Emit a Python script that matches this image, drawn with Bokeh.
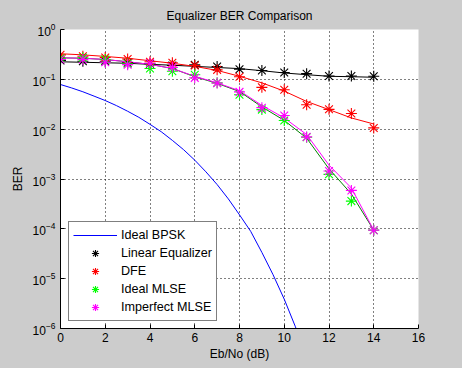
from bokeh.plotting import figure
from bokeh.models import Legend, LegendItem, FixedTicker
from bokeh.embed import file_html
from bokeh.resources import INLINE

# ---- data ----
ebno_theory = [0, 0.5, 1, 1.5, 2, 2.5, 3, 3.5, 4, 4.5, 5, 5.5, 6, 6.5, 7, 7.5,
               8, 8.5, 9, 9.5, 10, 10.5, 11]
ber_bpsk = [7.87e-2, 6.71e-2, 5.63e-2, 4.60e-2, 3.75e-2, 2.97e-2, 2.29e-2, 1.73e-2,
            1.25e-2, 8.90e-3, 5.95e-3, 3.88e-3, 2.39e-3, 1.39e-3, 7.73e-4, 3.99e-4,
            1.91e-4, 8.9e-5, 3.36e-5, 1.2e-5, 3.87e-6, 1.08e-6, 2.61e-7]

ebno = [0, 1, 2, 3, 4, 5, 6, 7, 8, 9, 10, 11, 12, 13, 14]
ber_linear = [0.24, 0.23, 0.23, 0.215, 0.205, 0.19, 0.195, 0.18, 0.16, 0.15, 0.137, 0.13, 0.117, 0.117, 0.115]
ber_dfe = [0.31, 0.29, 0.275, 0.255, 0.225, 0.215, 0.19, 0.155, 0.113, 0.069, 0.062, 0.031, 0.025, 0.0206, 0.0106]
ber_mlse = [0.265, 0.27, 0.25, 0.205, 0.165, 0.145, 0.124, 0.085, 0.049, 0.0247, 0.0149, 0.0069, 0.00124, 0.00036, 0.000094]
ber_imlse = [0.25, 0.25, 0.22, 0.197, 0.21, 0.174, 0.107, 0.084, 0.056, 0.027, 0.0188, 0.007, 0.00145, 0.00059, 0.000094]

fit_linear = [0.225, 0.22, 0.215, 0.21, 0.2, 0.192, 0.182, 0.173, 0.164, 0.149, 0.134, 0.124, 0.115, 0.113, 0.11]
fit_dfe = [0.326, 0.31, 0.288, 0.265, 0.236, 0.21, 0.182, 0.151, 0.115, 0.085, 0.058, 0.036, 0.0247, 0.0168, 0.0127]
fit_mlse = [0.27, 0.265, 0.25, 0.225, 0.2, 0.165, 0.113, 0.083, 0.057, 0.028, 0.015, 0.0066, 0.0016, 0.0005, 0.000094]
fit_imlse = [0.27, 0.265, 0.25, 0.225, 0.2, 0.165, 0.115, 0.085, 0.059, 0.03, 0.0168, 0.0078, 0.0019, 0.00066, 0.000094]

x_ticks = [0, 2, 4, 6, 8, 10, 12, 14, 16]
y_ticks = [1e-6, 1e-5, 1e-4, 1e-3, 1e-2, 1e-1, 1]

FONT = "Liberation Sans"

p = figure(width=462, height=368, y_axis_type="log", x_range=(0, 16), y_range=(1e-6, 1),
           output_backend="svg", toolbar_location=None, title="Equalizer BER Comparison",
           min_border_left=60, min_border_right=44, min_border_top=28, min_border_bottom=40)
p.border_fill_color = "#cccccc"
p.background_fill_color = "white"
p.outline_line_color = None

p.title.align = "center"
p.title.text_font = FONT
p.title.text_font_size = "12px"
p.title.text_font_style = "normal"
p.title.text_color = "black"
p.title.standoff = 13

for ax in (p.xaxis[0], p.yaxis[0]):
    ax.axis_line_color = "black"
    ax.major_tick_in = 4
    ax.major_tick_out = 0
    ax.minor_tick_in = 0
    ax.minor_tick_out = 0
    ax.major_label_text_font = FONT
    ax.major_label_text_font_size = "12px"
    ax.major_label_text_color = "black"
    ax.axis_label_text_font = FONT
    ax.axis_label_text_font_size = "12px"
    ax.axis_label_text_font_style = "normal"
    ax.axis_label_text_color = "black"
p.xaxis.ticker = FixedTicker(ticks=x_ticks)
p.yaxis.ticker = FixedTicker(ticks=y_ticks)
p.xaxis.axis_label = "Eb/No (dB)"
p.yaxis.axis_label = "BER"
p.xaxis.major_label_standoff = 4
p.xaxis.axis_label_standoff = 2

for g in (p.xgrid[0], p.ygrid[0]):
    g.grid_line_color = "black"
    g.grid_line_dash = "1 3"
    g.grid_line_alpha = 1.0
    g.grid_line_width = 1

r_bpsk = p.line(ebno_theory, ber_bpsk, line_color="#0000ff", line_width=1)

p.line(ebno, fit_linear, line_color="black", line_width=1)
p.line(ebno, fit_dfe, line_color="#ff0000", line_width=1)
p.line(ebno, fit_mlse, line_color="#008000", line_width=1)
p.line(ebno, fit_imlse, line_color="#ff00ff", line_width=1)

r_lin = p.scatter(ebno, ber_linear, marker="asterisk", size=11, line_color="black", line_width=1.1)
r_dfe = p.scatter(ebno, ber_dfe, marker="asterisk", size=11, line_color="#ff0000", line_width=1.1)
r_mlse = p.scatter(ebno, ber_mlse, marker="asterisk", size=11, line_color="#00ff00", line_width=1.1)
r_imlse = p.scatter(ebno, ber_imlse, marker="asterisk", size=11, line_color="#ff00ff", line_width=1.1)

legend = Legend(items=[
    LegendItem(label="Ideal BPSK", renderers=[r_bpsk]),
    LegendItem(label="Linear Equalizer", renderers=[r_lin]),
    LegendItem(label="DFE", renderers=[r_dfe]),
    LegendItem(label="Ideal MLSE", renderers=[r_mlse]),
    LegendItem(label="Imperfect MLSE", renderers=[r_imlse]),
], location=(8, 7))
legend.label_text_font = FONT
legend.label_text_font_size = "12.6px"
legend.label_text_color = "black"
legend.glyph_width = 44
legend.glyph_height = 18
legend.label_height = 18
legend.label_standoff = 4
legend.spacing = 0
legend.padding = 4
legend.margin = 0
legend.border_line_color = "black"
legend.border_line_width = 1
legend.background_fill_color = "white"
legend.background_fill_alpha = 1.0
p.add_layout(legend, "center")

html = file_html(p, INLINE)
html = html.replace("</head>", "<style>html,body{margin:0;padding:0;background:#cccccc;}</style></head>", 1)
open("out.html", "w").write(html)
